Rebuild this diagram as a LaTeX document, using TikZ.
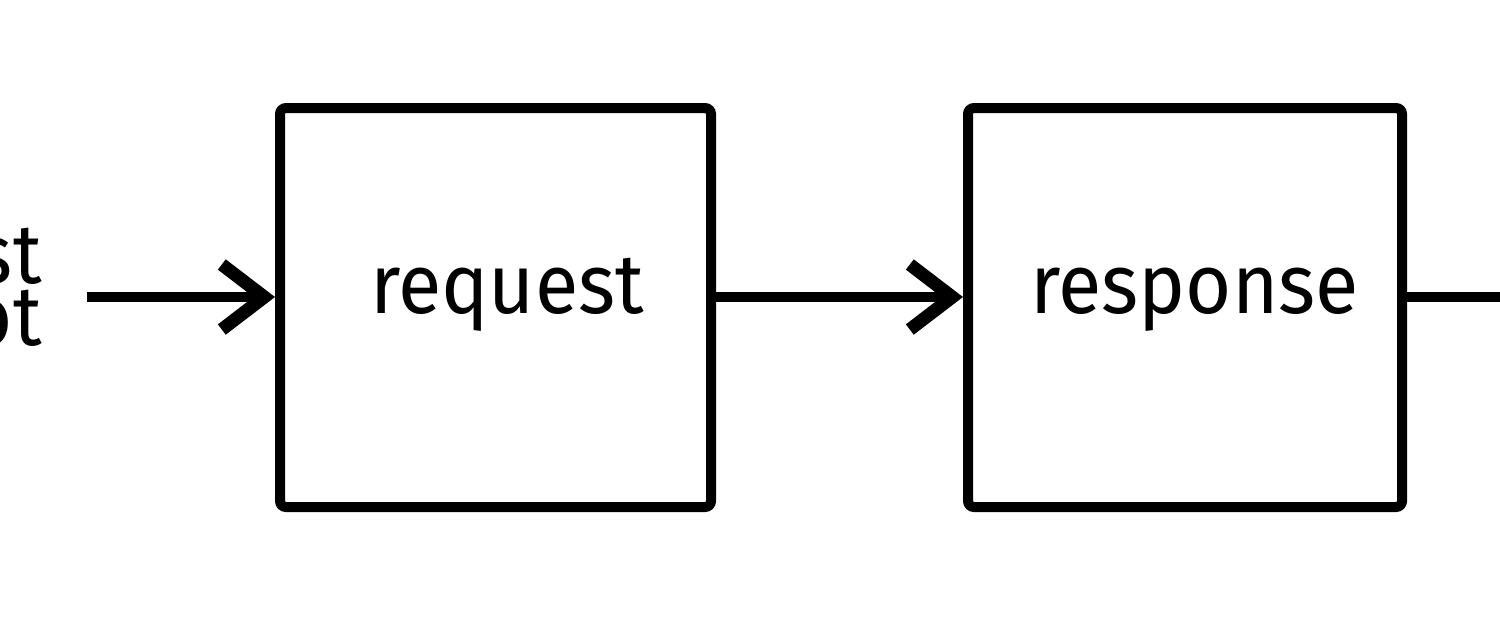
\documentclass[tikz,border=0pt]{standalone}
\usepackage{fontspec}
\setmainfont{Fira Sans}[FakeStretch=0.94]
\usetikzlibrary{arrows.meta,positioning}

\begin{document}
\begin{tikzpicture}[
  stage/.style={draw,line width=0.2cm,rounded corners=0.12cm,inner sep=0pt,
                minimum height=7.98cm},
  flow/.style={line width=0.2cm,
               -{Straight Barb[length=0.85cm,width=1.3cm,line width=0.26cm]}},
  word/.style={font=\fontsize{48}{52}\selectfont,anchor=base,inner sep=0pt}
]
\useasboundingbox (0,0) rectangle (30,-12.6);
% stages
\node[stage,minimum width=8.62cm] (req) at (9.91,-6.15) {};
\node[stage,minimum width=8.68cm] (resp) at (23.7,-6.15) {};
\node[word] (reqtext) at (10.14,-6.26) {request};
\node[word] (resptext) at (23.89,-6.26) {response};
% cut off input text
\node[word,anchor=base east] (intop) at (0.84,-5.66) {request};
\node[word,anchor=base east] (inbot) at (0.84,-6.9) {snapshot};
% connectors
\coordinate (in) at (1.74,-5.94);
\coordinate (out) at (30.6,-5.94);
\draw[flow] (in) -- (in -| req.west);
\draw[flow] (req.east |- in) -- (in -| resp.west);
\draw[line width=0.2cm] (resp.east |- in) -- (out);
\end{tikzpicture}
\end{document}
